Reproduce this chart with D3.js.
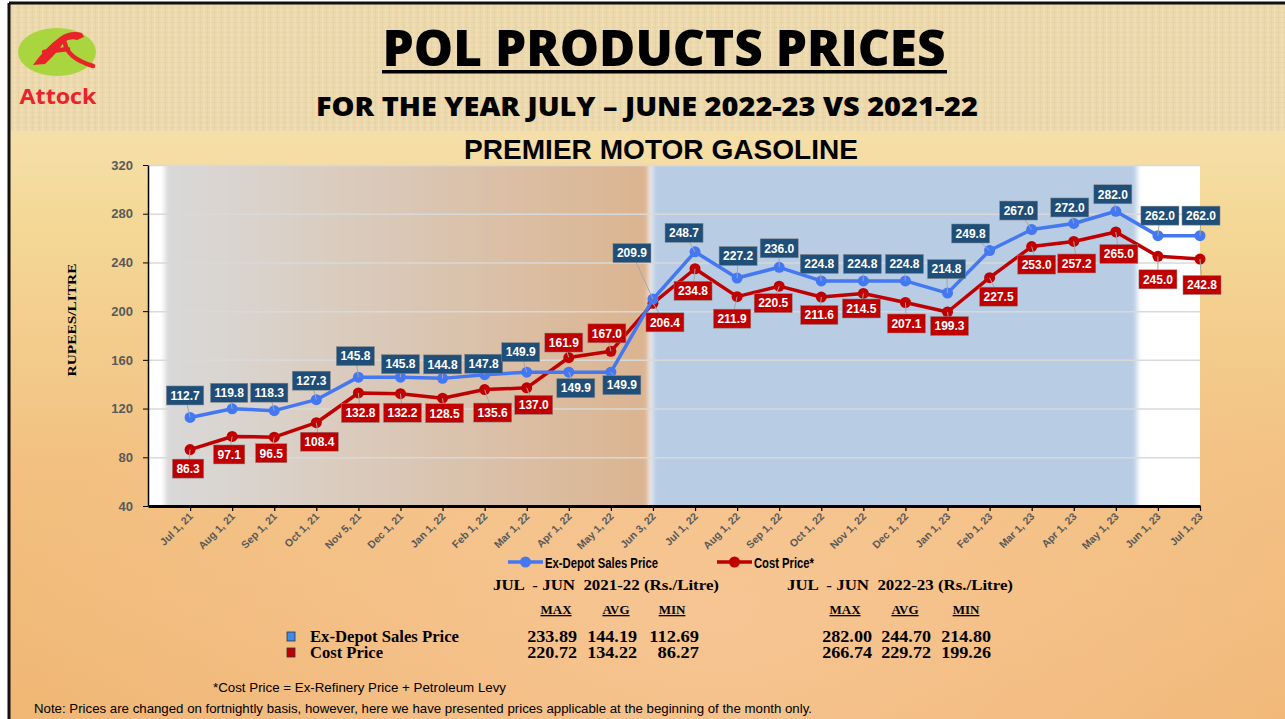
<!DOCTYPE html>
<html>
<head>
<meta charset="utf-8">
<script src="https://cdnjs.cloudflare.com/ajax/libs/d3/7.8.5/d3.min.js"></script>
<style>
  html, body { margin: 0; padding: 0; background: #fff; }
  svg { display: block; }
  .pre { white-space: pre; }
</style>
</head>
<body>
<script>
var W = 1285, H = 719;

// x categories (price revision dates)
var dates = ["Jul 1, 21", "Aug 1, 21", "Sep 1, 21", "Oct 1, 21", "Nov 5, 21", "Dec 1, 21",
  "Jan 1, 22", "Feb 1, 22", "Mar 1, 22", "Apr 1, 22", "May 1, 22", "Jun 3, 22",
  "Jul 1, 22", "Aug 1, 22", "Sep 1, 22", "Oct 1, 22", "Nov 1, 22", "Dec 1, 22",
  "Jan 1, 23", "Feb 1, 23", "Mar 1, 23", "Apr 1, 23", "May 1, 23", "Jun 1, 23", "Jul 1, 23"];

var exDepot = [112.7, 119.8, 118.3, 127.3, 145.8, 145.8, 144.8, 147.8, 149.9, 149.9, 149.9, 209.9,
  248.7, 227.2, 236.0, 224.8, 224.8, 224.8, 214.8, 249.8, 267.0, 272.0, 282.0, 262.0, 262.0];

var costPrice = [86.3, 97.1, 96.5, 108.4, 132.8, 132.2, 128.5, 135.6, 137.0, 161.9, 167.0, 206.4,
  234.8, 211.9, 220.5, 211.6, 214.5, 207.1, 199.3, 227.5, 253.0, 257.2, 265.0, 245.0, 242.8];

var yTicks = [40, 80, 120, 160, 200, 240, 280, 320];

// fiscal year shading, in category index units
var bandFrom = [-0.6, 10.98];
var bandTo = [10.9, 22.5];

// label nudges (dx, dy) like the hand placed excel labels
var exNudge = [[-5,-22],[-3,-16],[-5,-18],[-5,-19],[-3,-21],[0,-13],[0,-14],[-1,-11],[-6,-20],[7,16],[11,13],
  [-21,-46],[-11,-19],[1,-22],[0,-19],[-2,-17],[-1,-17],[-1,-17],[-1,-24],[-19,-17],[-13,-19],[-4,-16],[-3,-17],[2,-20],[1,-20]];
var costNudge = [[-2,19],[-3,18],[-3,16],[3,19],[2,20],[2,19],[2,15],[8,23],[7,17],[-5,-15],[-4,-18],
  [12,19],[-2,22],[-5,22],[-6,17],[-2,18],[-2,15],[1,21],[2,14],[9,19],[5,18],[3,22],[3,22],[0,23],[2,26]];

// summary table
var periods = ["JUL  - JUN  2021-22 (Rs./Litre)", "JUL  - JUN  2022-23 (Rs./Litre)"];
var statNames = ["MAX", "AVG", "MIN"];
var rowNames = ["Ex-Depot Sales Price", "Cost Price"];
var exDepotStats = [["233.89", "144.19", "112.69"], ["282.00", "244.70", "214.80"]];
var costStats = [["220.72", "134.22", "86.27"], ["266.74", "229.72", "199.26"]];

var blue = "#4477f2", red = "#c00000";
var blueBox = "#1f4e79", redBox = "#c00000";

var margin = {top: 165, left: 148, right: W - 1200, bottom: H - 506};

var svg = d3.select("body").append("svg")
  .attr("width", W)
  .attr("height", H);

var defs = svg.append("defs");

// page background
var bg = defs.append("linearGradient").attr("id", "bgGrad")
  .attr("x1", 0).attr("y1", 0).attr("x2", 0).attr("y2", 1);
bg.append("stop").attr("offset", "0%").attr("stop-color", "#f7eac3");
bg.append("stop").attr("offset", "30%").attr("stop-color", "#f4d897");
bg.append("stop").attr("offset", "65%").attr("stop-color", "#f2c080");
bg.append("stop").attr("offset", "100%").attr("stop-color", "#f0b674");

var glow = defs.append("radialGradient").attr("id", "glow")
  .attr("cx", "55%").attr("cy", "85%").attr("r", "55%");
glow.append("stop").attr("offset", "0%").attr("stop-color", "#f8c89a").attr("stop-opacity", 0.8);
glow.append("stop").attr("offset", "100%").attr("stop-color", "#f8c89a").attr("stop-opacity", 0);

// header linen texture
var tex = defs.append("pattern").attr("id", "linen")
  .attr("width", 7).attr("height", 5).attr("patternUnits", "userSpaceOnUse");
tex.append("rect").attr("width", 7).attr("height", 5).attr("fill", "#ecd9ad");
tex.append("rect").attr("x", 0).attr("width", 1.5).attr("height", 5).attr("fill", "#f2e3bf").attr("opacity", 0.5);
tex.append("rect").attr("x", 4).attr("width", 1).attr("height", 5).attr("fill", "#e0c999").attr("opacity", 0.3);
tex.append("rect").attr("y", 2).attr("width", 7).attr("height", 1).attr("fill", "#e4cf9f").attr("opacity", 0.35);

var band1 = defs.append("linearGradient").attr("id", "band1");
band1.append("stop").attr("offset", "0%").attr("stop-color", "#d9d9d9");
band1.append("stop").attr("offset", "100%").attr("stop-color", "#dbb490");

defs.append("filter").attr("id", "soft")
  .attr("x", "-5%").attr("width", "110%")
  .append("feGaussianBlur").attr("stdDeviation", "2.5 0");

defs.append("clipPath").attr("id", "plotClip")
  .append("rect")
  .attr("x", margin.left).attr("y", margin.top)
  .attr("width", 1200 - margin.left).attr("height", 506 - margin.top);

svg.append("rect").attr("x", 9).attr("y", 3).attr("width", W).attr("height", H)
  .attr("fill", "url(#bgGrad)");
svg.append("rect").attr("x", 9).attr("y", 3).attr("width", W).attr("height", H)
  .attr("fill", "url(#glow)");
svg.append("rect").attr("x", 9).attr("y", 3).attr("width", W).attr("height", 128)
  .attr("fill", "url(#linen)");
svg.append("line").attr("x1", 9).attr("x2", W).attr("y1", 3).attr("y2", 3)
  .attr("stroke", "#111").attr("stroke-width", 3);
svg.append("line").attr("x1", 9).attr("x2", 9).attr("y1", 3).attr("y2", H)
  .attr("stroke", "#111").attr("stroke-width", 3);

// logo
var logo = svg.append("g");
logo.append("ellipse").attr("cx", 57).attr("cy", 52).attr("rx", 39).attr("ry", 24)
  .attr("fill", "#a9d63f");
logo.append("path")
  .attr("d", "M33,65 Q46,47 60,37 Q70,30 82,33 L84,37 L77,40 Q70,38 64,42 Q58,52 45,64 Z")
  .attr("fill", "#e8232a");
logo.append("path")
  .attr("d", "M44,52 L68,49 M65,43 Q67,58 93,66")
  .attr("fill", "none").attr("stroke", "#e8232a").attr("stroke-width", 4.5).attr("stroke-linecap", "round");
logo.append("text").attr("x", 58).attr("y", 104)
  .attr("text-anchor", "middle")
  .attr("font-family", "'Open Sans', sans-serif").attr("font-weight", 700)
  .attr("font-size", 22).attr("fill", "#e8232a")
  .attr("textLength", 77).attr("lengthAdjust", "spacingAndGlyphs")
  .text("Attock");

// titles
svg.append("text").attr("x", 664).attr("y", 66)
  .attr("text-anchor", "middle")
  .attr("font-family", "'Open Sans', sans-serif").attr("font-weight", 800)
  .attr("font-size", 49).attr("fill", "#000")
  .attr("textLength", 563).attr("lengthAdjust", "spacingAndGlyphs")
  .text("POL PRODUCTS PRICES");
svg.append("rect").attr("x", 382).attr("y", 70).attr("width", 565).attr("height", 3.5).attr("fill", "#000");

svg.append("text").attr("x", 647).attr("y", 116)
  .attr("text-anchor", "middle")
  .attr("font-family", "'Open Sans', sans-serif").attr("font-weight", 800)
  .attr("font-size", 27).attr("fill", "#000")
  .attr("textLength", 662).attr("lengthAdjust", "spacingAndGlyphs")
  .text("FOR THE YEAR JULY \u2013 JUNE 2022-23 VS 2021-22");

svg.append("text").attr("x", 661).attr("y", 159)
  .attr("text-anchor", "middle")
  .attr("font-family", "'Liberation Sans', Arial, sans-serif").attr("font-weight", 700)
  .attr("font-size", 28).attr("fill", "#000")
  .attr("textLength", 394).attr("lengthAdjust", "spacingAndGlyphs")
  .text("PREMIER MOTOR GASOLINE");

// scales
var x = d3.scaleLinear().domain([-1, dates.length - 1]).range([margin.left, 1200]);
var y = d3.scaleLinear().domain([40, 320]).range([506, 165]);

var chart = svg.append("g");

chart.append("rect")
  .attr("x", margin.left).attr("y", margin.top)
  .attr("width", 1200 - margin.left).attr("height", 506 - margin.top)
  .attr("fill", "#fff");

var bands = chart.append("g").attr("clip-path", "url(#plotClip)")
  .append("g").attr("filter", "url(#soft)");
bands.selectAll("rect")
  .data(bandFrom)
  .enter()
    .append("rect")
    .attr("x", (d) => x(d))
    .attr("y", margin.top - 10)
    .attr("width", (d, i) => x(bandTo[i]) - x(d))
    .attr("height", 506 - margin.top + 20)
    .attr("fill", (d, i) => i === 0 ? "url(#band1)" : "#b8cce4");

// gridlines
chart.append("g")
  .attr("transform", "translate(" + margin.left + ",0)")
  .call(d3.axisLeft(y).tickValues(yTicks.slice(1)).tickSize(-(1200 - margin.left)).tickFormat(""))
  .call((g) => g.select(".domain").remove())
  .selectAll("line")
    .attr("stroke", "#d9d9d9").attr("stroke-width", 1.5);

// y axis
var yAxis = chart.append("g")
  .attr("transform", "translate(" + margin.left + ",0)")
  .call(d3.axisLeft(y).tickValues(yTicks).tickSize(5).tickSizeOuter(0).tickPadding(10));
yAxis.select(".domain").attr("stroke", "#000").attr("stroke-width", 1.5);
yAxis.selectAll("line").attr("stroke", "#000");
yAxis.selectAll("text")
  .attr("font-family", "'Liberation Sans', Arial, sans-serif")
  .attr("font-weight", 700).attr("font-size", 13).attr("fill", "#595959");

// x axis
var xAxis = chart.append("g")
  .attr("transform", "translate(0,506)")
  .call(d3.axisBottom(x).tickValues(d3.range(dates.length)).tickFormat((i) => dates[i]).tickSize(5).tickSizeOuter(0));
xAxis.select(".domain").attr("stroke", "#000").attr("stroke-width", 3);
xAxis.selectAll("line").attr("stroke", "#000").attr("stroke-width", 1.2);
xAxis.selectAll("text")
  .attr("font-family", "'Liberation Sans', Arial, sans-serif")
  .attr("font-weight", 700).attr("font-size", 10.5).attr("fill", "#595959")
  .attr("text-anchor", "end")
  .attr("dy", null)
  .attr("y", 0)
  .attr("transform", "translate(3,11) rotate(-45)");

svg.append("text")
  .attr("transform", "translate(76,320) rotate(-90)")
  .attr("text-anchor", "middle")
  .attr("font-family", "'Liberation Serif', 'Times New Roman', serif")
  .attr("font-weight", 700).attr("font-size", 12).attr("fill", "#000")
  .attr("textLength", 113).attr("lengthAdjust", "spacingAndGlyphs")
  .text("RUPEES/LITRE");

// series lines and markers
var line = d3.line()
  .x((d, i) => x(i))
  .y((d) => y(d));

var series = [
  {vals: costPrice, color: red, box: redBox, nudge: costNudge},
  {vals: exDepot, color: blue, box: blueBox, nudge: exNudge}
];

series.forEach((s) => {
  chart.append("path")
    .datum(s.vals)
    .attr("d", line)
    .attr("fill", "none")
    .attr("stroke", s.color)
    .attr("stroke-width", 3.5)
    .attr("stroke-linejoin", "round");
  chart.selectAll(null)
    .data(s.vals)
    .enter()
      .append("circle")
      .attr("cx", (d, i) => x(i))
      .attr("cy", (d) => y(d))
      .attr("r", 5.5)
      .attr("fill", s.color);
});

// data labels with leader lines
series.forEach((s) => {
  var lg = chart.append("g");
  var items = lg.selectAll("g")
    .data(s.vals)
    .enter()
      .append("g");
  items.append("line")
    .attr("x1", (d, i) => x(i))
    .attr("y1", (d) => y(d))
    .attr("x2", (d, i) => x(i) + s.nudge[i][0])
    .attr("y2", (d, i) => y(d) + s.nudge[i][1])
    .attr("stroke", "#a6a6a6")
    .attr("stroke-width", 1);
  var rects = items.append("rect");
  var texts = items.append("text")
    .attr("x", (d, i) => x(i) + s.nudge[i][0])
    .attr("y", (d, i) => y(d) + s.nudge[i][1])
    .attr("dy", "0.36em")
    .attr("text-anchor", "middle")
    .attr("font-family", "'Liberation Sans', Arial, sans-serif")
    .attr("font-weight", 700)
    .attr("font-size", 12)
    .attr("fill", "#fff")
    .text((d) => d.toFixed(1));
  texts.each(function(d, i) {
    var tw = this.getComputedTextLength();
    d3.select(rects.nodes()[i])
      .attr("x", x(i) + s.nudge[i][0] - tw / 2 - 4)
      .attr("y", y(d) + s.nudge[i][1] - 9.5)
      .attr("width", tw + 8)
      .attr("height", 19)
      .attr("fill", s.box)
      .attr("stroke", "#8a8a8a")
      .attr("stroke-width", 0.5);
  });
});

// legend
var legend = svg.append("g");
[{name: "Ex-Depot Sales Price", color: blue, x0: 508, w: 113},
 {name: "Cost Price*", color: red, x0: 717, w: 60}].forEach((l) => {
  legend.append("line")
    .attr("x1", l.x0).attr("x2", l.x0 + 35).attr("y1", 562).attr("y2", 562)
    .attr("stroke", l.color).attr("stroke-width", 3.5);
  legend.append("circle").attr("cx", l.x0 + 17.5).attr("cy", 562).attr("r", 5.5).attr("fill", l.color);
  legend.append("text")
    .attr("x", l.x0 + 37).attr("y", 567.5)
    .attr("font-family", "'Liberation Sans Narrow', 'Arial Narrow', 'Liberation Sans', sans-serif")
    .attr("font-weight", 700).attr("font-size", 15).attr("fill", "#000")
    .attr("textLength", l.w).attr("lengthAdjust", "spacingAndGlyphs")
    .text(l.name);
});

// summary table
var serif = "'Liberation Serif', 'Times New Roman', serif";
var table = svg.append("g").attr("font-family", serif).attr("font-weight", 700).attr("fill", "#000");
var blockX = [493, 787];
var colRight = [[577, 637, 699], [872, 931, 991]];
var headX = [[556, 616, 672], [845, 905, 966]];

periods.forEach((p, b) => {
  table.append("text").attr("class", "pre")
    .attr("x", blockX[b]).attr("y", 590)
    .attr("font-size", 15)
    .attr("textLength", 226).attr("lengthAdjust", "spacingAndGlyphs")
    .text(p);
  statNames.forEach((n, c) => {
    table.append("text")
      .attr("x", headX[b][c]).attr("y", 614)
      .attr("text-anchor", "middle")
      .attr("font-size", 13)
      .attr("text-decoration", "underline")
      .text(n);
  });
  [exDepotStats, costStats].forEach((st, r) => {
    st[b].forEach((v, c) => {
      table.append("text")
        .attr("x", colRight[b][c]).attr("y", 642 + r * 16)
        .attr("text-anchor", "end")
        .attr("font-size", 16)
        .attr("textLength", v.length * 8.3).attr("lengthAdjust", "spacingAndGlyphs")
        .text(v);
    });
  });
});

rowNames.forEach((n, r) => {
  table.append("rect")
    .attr("x", 287).attr("y", 632 + r * 16).attr("width", 8).attr("height", 9)
    .attr("fill", r === 0 ? "#3b8ded" : "#c00000")
    .attr("stroke", "#333").attr("stroke-width", 0.8);
  table.append("text")
    .attr("x", 310).attr("y", 642 + r * 16)
    .attr("font-size", 16)
    .attr("textLength", r === 0 ? 149 : 73).attr("lengthAdjust", "spacingAndGlyphs")
    .text(n);
});

// footnotes
var narrow = "'Liberation Sans Narrow', 'Arial Narrow', 'Liberation Sans', sans-serif";
svg.append("text")
  .attr("x", 213).attr("y", 692)
  .attr("font-family", narrow).attr("font-size", 13).attr("fill", "#000")
  .attr("textLength", 293).attr("lengthAdjust", "spacingAndGlyphs")
  .text("*Cost Price = Ex-Refinery Price + Petroleum Levy");
svg.append("text")
  .attr("x", 34).attr("y", 713)
  .attr("font-family", narrow).attr("font-size", 13).attr("fill", "#000")
  .attr("textLength", 778).attr("lengthAdjust", "spacingAndGlyphs")
  .text("Note: Prices are changed on fortnightly basis, however, here we have presented prices applicable at the beginning of the month only.");
</script>
</body>
</html>
